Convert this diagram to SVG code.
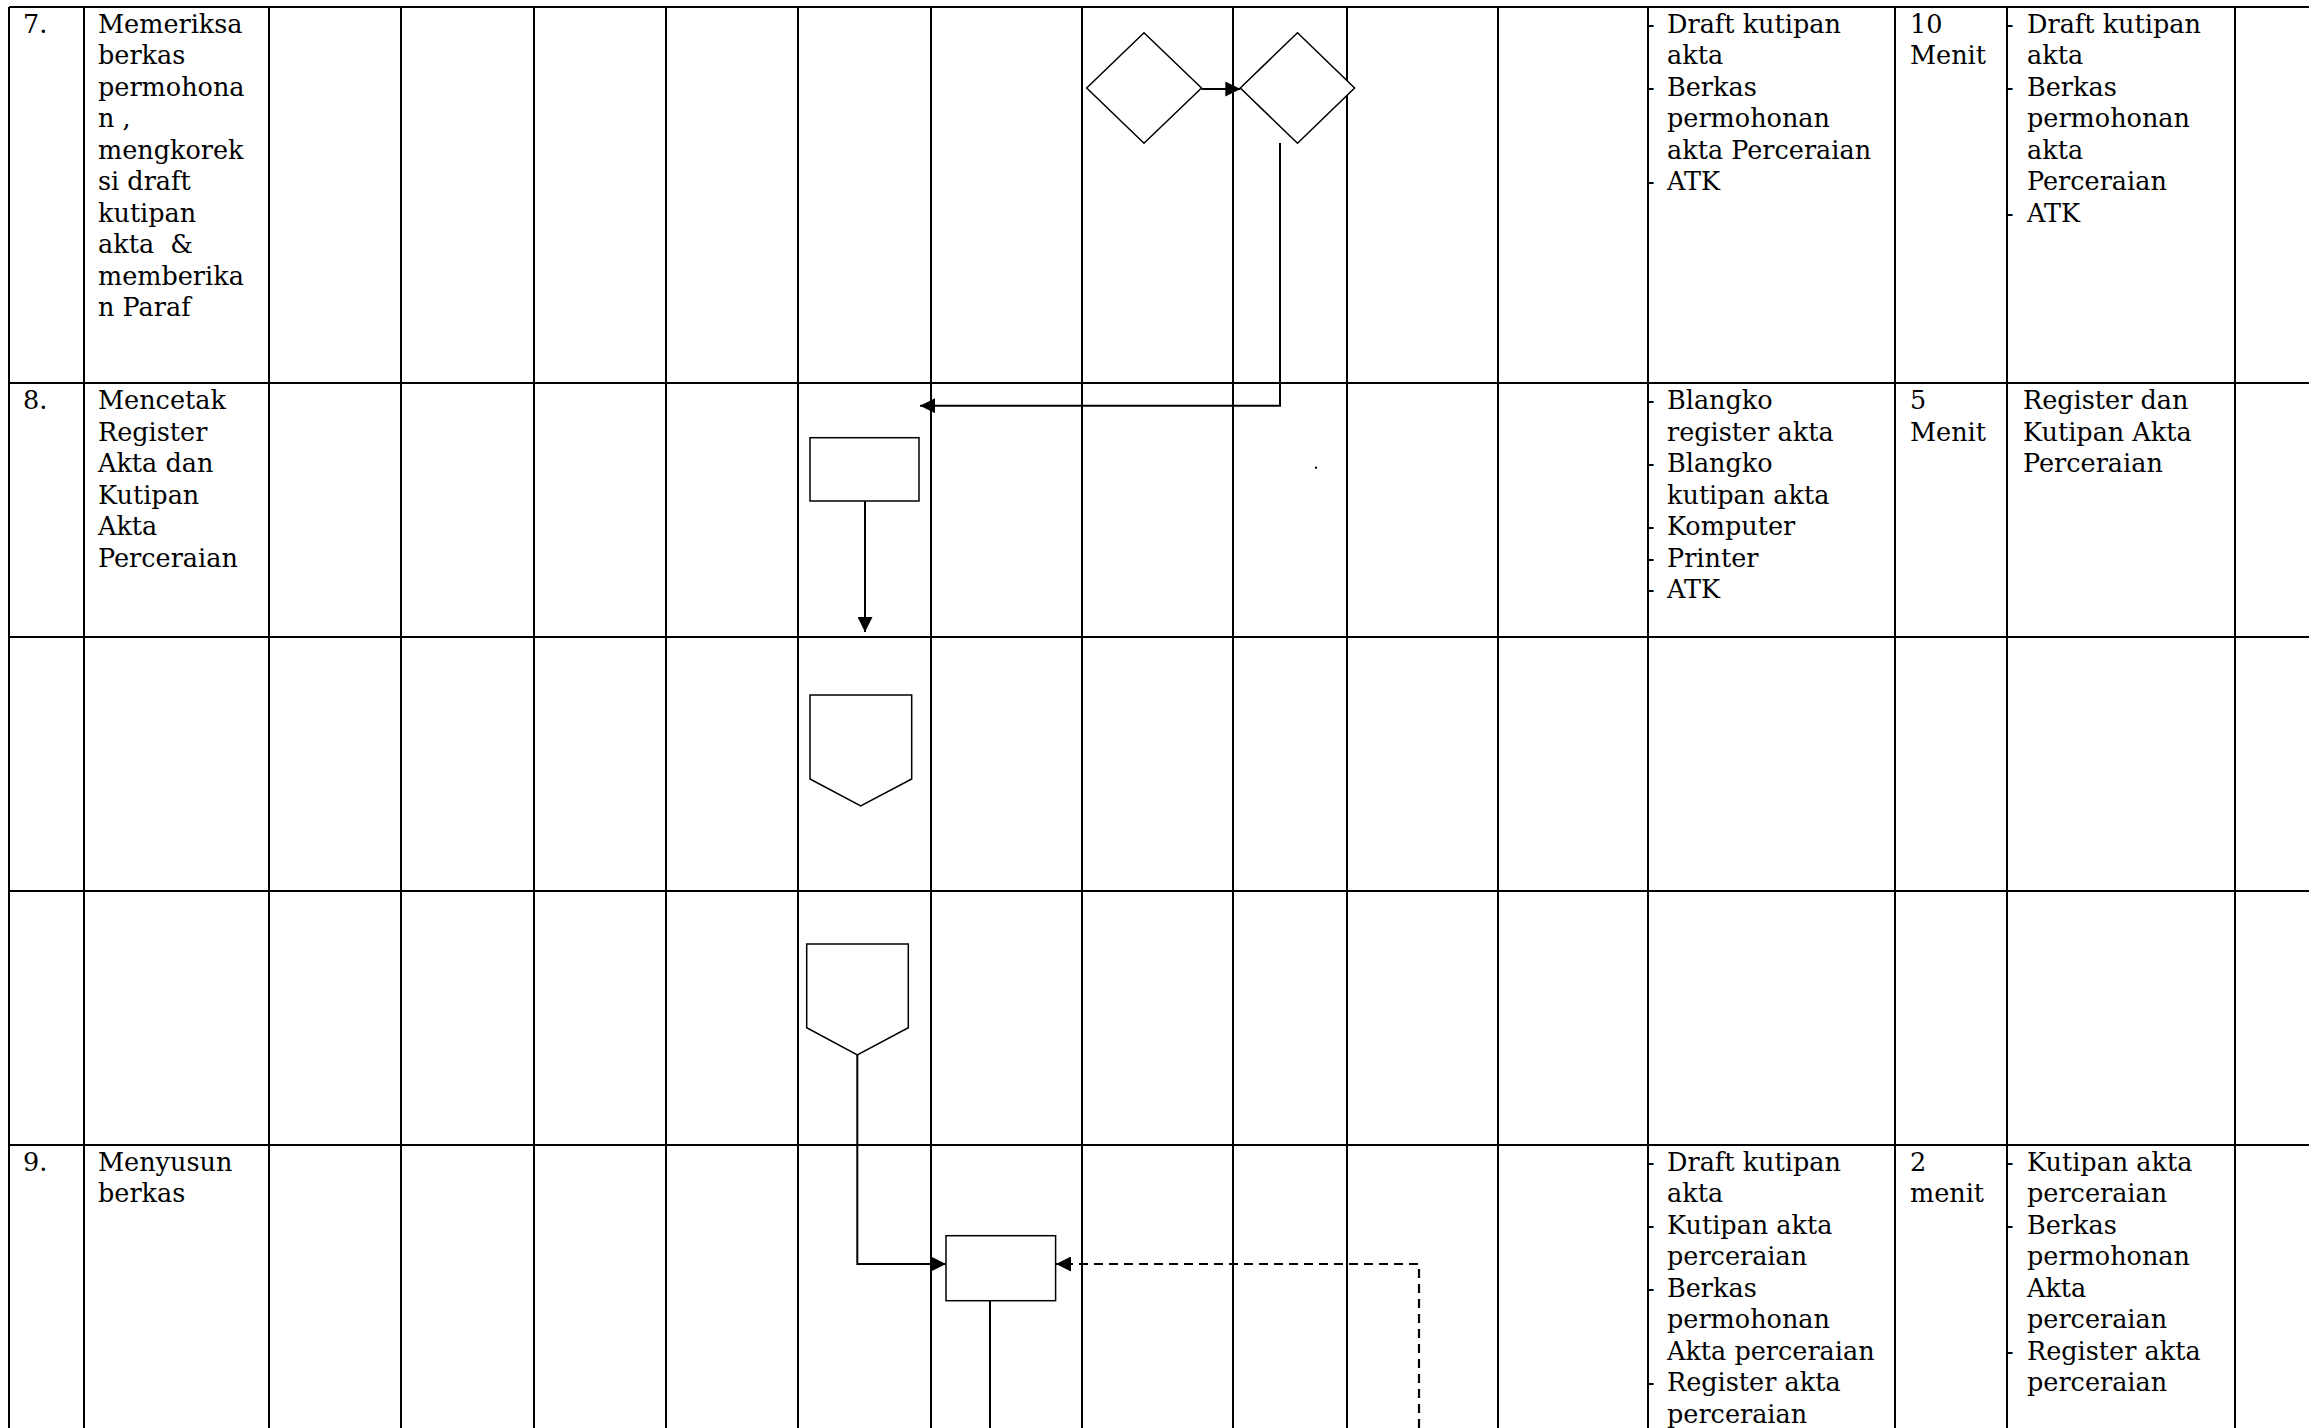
<svg xmlns="http://www.w3.org/2000/svg" width="2309" height="1428" viewBox="0 0 2309 1428">
<style>
.grid{stroke:#000;stroke-width:2;fill:none}
.shape{stroke:#000;stroke-width:1.5;fill:#fff}
.conn{stroke:#000;stroke-width:2;fill:none}
.dash{stroke-dasharray:9 6;stroke-width:2.2}
text{font-family:"DejaVu Serif","Liberation Serif",serif;font-size:25.5px;fill:#000}
</style>
<defs>
<marker id="arr" markerUnits="userSpaceOnUse" markerWidth="15" markerHeight="15" refX="15" refY="7.5" orient="auto">
<path d="M0,0 L15,7.5 L0,15 Z" fill="#000"/>
</marker>
</defs>
<rect x="0" y="0" width="2309" height="1428" fill="#fff"/>
<g id="grid" class="grid">
<line x1="9" y1="7" x2="2309" y2="7"/>
<line x1="9" y1="383" x2="2309" y2="383"/>
<line x1="9" y1="637" x2="2309" y2="637"/>
<line x1="9" y1="891" x2="2309" y2="891"/>
<line x1="9" y1="1145" x2="2309" y2="1145"/>
<line x1="9" y1="7" x2="9" y2="1428"/>
<line x1="84" y1="7" x2="84" y2="1428"/>
<line x1="269" y1="7" x2="269" y2="1428"/>
<line x1="401" y1="7" x2="401" y2="1428"/>
<line x1="534" y1="7" x2="534" y2="1428"/>
<line x1="666" y1="7" x2="666" y2="1428"/>
<line x1="798" y1="7" x2="798" y2="1428"/>
<line x1="931" y1="7" x2="931" y2="1428"/>
<line x1="1082" y1="7" x2="1082" y2="1428"/>
<line x1="1233" y1="7" x2="1233" y2="1428"/>
<line x1="1347" y1="7" x2="1347" y2="1428"/>
<line x1="1498" y1="7" x2="1498" y2="1428"/>
<line x1="1648" y1="7" x2="1648" y2="1428"/>
<line x1="1895" y1="7" x2="1895" y2="1428"/>
<line x1="2007" y1="7" x2="2007" y2="1428"/>
<line x1="2235" y1="7" x2="2235" y2="1428"/>
</g>
<g id="connectors">
<polyline class="conn" points="1201.5,89 1240.3,89" marker-end="url(#arr)"/>
<polyline class="conn" points="1280,143 1280,405.7 920,405.7" marker-end="url(#arr)"/>
<polyline class="conn" points="865,501 865,632" marker-end="url(#arr)"/>
<polyline class="conn" points="857.3,1055 857.3,1264 946,1264" marker-end="url(#arr)"/>
<polyline class="conn" points="990,1300.7 990,1428"/>
<polyline class="conn dash" points="1419,1428 1419,1264 1056,1264" marker-end="url(#arr)"/>
</g>
<g id="node-diamond1"><polygon class="shape" points="1144,32.7 1201.5,88 1144,143.3 1086.7,88"/></g>
<g id="node-diamond2"><polygon class="shape" points="1297.5,32.7 1354.6,88 1297.5,143.3 1240.3,88"/></g>
<g id="node-rect8"><rect class="shape" x="810" y="437.7" width="109" height="63.3"/></g>
<g id="node-offpage1"><path class="shape" d="M810,695 L911.7,695 L911.7,779 L860.7,806 L810,779 Z"/></g>
<g id="node-offpage2"><path class="shape" d="M806.7,944 L908.3,944 L908.3,1027.7 L857.3,1055 L806.7,1027.7 Z"/></g>
<g id="node-rect9"><rect class="shape" x="946" y="1235.7" width="109.6" height="65"/></g>
<rect x="1315" y="466.7" width="2" height="2" fill="#000"/>
<g id="row7">
<text x="23" y="32.5">7.</text>
<text x="98" y="32.5">Memeriksa</text>
<text x="98" y="64">berkas</text>
<text x="98" y="95.5">permohona</text>
<text x="98" y="127">n ,</text>
<text x="98" y="158.5">mengkorek</text>
<text x="98" y="190">si draft</text>
<text x="98" y="221.5">kutipan</text>
<text x="98" y="253" xml:space="preserve">akta  &amp;</text>
<text x="98" y="284.5">memberika</text>
<text x="98" y="316">n Paraf</text>
<text x="1646" y="32.5">-</text><text x="1667" y="32.5">Draft kutipan</text>
<text x="1667" y="64">akta</text>
<text x="1646" y="95.5">-</text><text x="1667" y="95.5">Berkas</text>
<text x="1667" y="127">permohonan</text>
<text x="1667" y="158.5">akta Perceraian</text>
<text x="1646" y="190">-</text><text x="1667" y="190">ATK</text>
<text x="1910" y="32.5">10</text>
<text x="1910" y="64">Menit</text>
<text x="2005" y="32.5">-</text><text x="2027" y="32.5">Draft kutipan</text>
<text x="2027" y="64">akta</text>
<text x="2005" y="95.5">-</text><text x="2027" y="95.5">Berkas</text>
<text x="2027" y="127">permohonan</text>
<text x="2027" y="158.5">akta</text>
<text x="2027" y="190">Perceraian</text>
<text x="2005" y="221.5">-</text><text x="2027" y="221.5">ATK</text>
</g>
<g id="row8">
<text x="23" y="409">8.</text>
<text x="98" y="409">Mencetak</text>
<text x="98" y="440.5">Register</text>
<text x="98" y="472">Akta dan</text>
<text x="98" y="503.5">Kutipan</text>
<text x="98" y="535">Akta</text>
<text x="98" y="566.5">Perceraian</text>
<text x="1646" y="409">-</text><text x="1667" y="409">Blangko</text>
<text x="1667" y="440.5">register akta</text>
<text x="1646" y="472">-</text><text x="1667" y="472">Blangko</text>
<text x="1667" y="503.5">kutipan akta</text>
<text x="1646" y="535">-</text><text x="1667" y="535">Komputer</text>
<text x="1646" y="566.5">-</text><text x="1667" y="566.5">Printer</text>
<text x="1646" y="598">-</text><text x="1667" y="598">ATK</text>
<text x="1910" y="409">5</text>
<text x="1910" y="440.5">Menit</text>
<text x="2023" y="409">Register dan</text>
<text x="2023" y="440.5">Kutipan Akta</text>
<text x="2023" y="472">Perceraian</text>
</g>
<g id="row9">
<text x="23" y="1170.5">9.</text>
<text x="98" y="1170.5">Menyusun</text>
<text x="98" y="1202">berkas</text>
<text x="1646" y="1170.5">-</text><text x="1667" y="1170.5">Draft kutipan</text>
<text x="1667" y="1202">akta</text>
<text x="1646" y="1233.5">-</text><text x="1667" y="1233.5">Kutipan akta</text>
<text x="1667" y="1265">perceraian</text>
<text x="1646" y="1296.5">-</text><text x="1667" y="1296.5">Berkas</text>
<text x="1667" y="1328">permohonan</text>
<text x="1667" y="1359.5">Akta perceraian</text>
<text x="1646" y="1391">-</text><text x="1667" y="1391">Register akta</text>
<text x="1667" y="1422.5">perceraian</text>
<text x="1910" y="1170.5">2</text>
<text x="1910" y="1202">menit</text>
<text x="2005" y="1170.5">-</text><text x="2027" y="1170.5">Kutipan akta</text>
<text x="2027" y="1202">perceraian</text>
<text x="2005" y="1233.5">-</text><text x="2027" y="1233.5">Berkas</text>
<text x="2027" y="1265">permohonan</text>
<text x="2027" y="1296.5">Akta</text>
<text x="2027" y="1328">perceraian</text>
<text x="2005" y="1359.5">-</text><text x="2027" y="1359.5">Register akta</text>
<text x="2027" y="1391">perceraian</text>
</g>
</svg>
